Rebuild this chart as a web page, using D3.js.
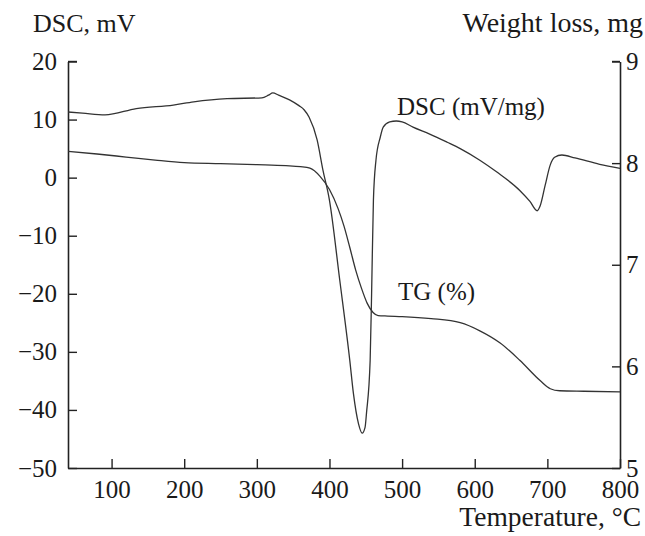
<!DOCTYPE html>
<html>
<head>
<meta charset="utf-8">
<script src="https://cdn.jsdelivr.net/npm/d3@7"></script>
<style>
html,body{margin:0;padding:0;background:#fff;}
svg text{font-family:"Liberation Serif","Times New Roman",serif;fill:#1a1a1a;}
</style>
</head>
<body>
<svg id="chart" width="645" height="536"></svg>
<script>
// ---- data ----
const dscTemp = [40, 60, 91, 134, 185, 213, 259, 307, 316, 322, 330, 345, 358, 365, 372, 383, 391, 400, 414, 428, 433, 440, 445, 449, 451, 456, 458, 460.5, 464, 470, 474, 483, 492, 500, 515, 538, 562, 580, 607, 630, 662, 676, 686, 690, 697, 704, 710, 720, 738, 772, 800];
const dscValue = [11.3, 11.1, 10.8, 11.9, 12.5, 13.05, 13.6, 13.75, 14.2, 14.6, 14.2, 13.4, 12.4, 11.7, 10.4, 6.5, 1.3, -3.9, -17.5, -31.5, -37.2, -42.4, -44, -43, -40.5, -31.5, -20, -3.9, 3, 7.0, 8.7, 9.6, 9.75, 9.6, 8.7, 7.5, 6.1, 5.0, 3.0, 1.0, -2.2, -4.1, -5.7, -4.9, -1.3, 2.2, 3.5, 3.9, 3.4, 2.3, 1.6];

const tgTemp = [40, 80, 120, 160, 200, 250, 300, 340, 360, 373, 387, 400, 412, 420, 428, 436, 444, 452, 460, 467, 480, 500, 540, 580, 607, 635, 662, 690, 704, 717, 750, 800];
const tgValue = [8.115, 8.09, 8.06, 8.03, 8.005, 7.995, 7.985, 7.975, 7.965, 7.95, 7.87, 7.74, 7.55, 7.38, 7.17, 6.95, 6.77, 6.62, 6.53, 6.50, 6.495, 6.49, 6.47, 6.43, 6.35, 6.23, 6.06, 5.86, 5.78, 5.76, 5.755, 5.75];

const xTicks = [100, 200, 300, 400, 500, 600, 700, 800];
const yLeftTicks = [-50, -40, -30, -20, -10, 0, 10, 20];
const yRightTicks = [5, 6, 7, 8, 9];

const labels = {
  left: "DSC, mV",
  right: "Weight loss, mg",
  x: "Temperature, °C",
  dsc: "DSC (mV/mg)",
  tg: "TG (%)"
};

// ---- layout ----
const L = 68, R = 620, T = 61.5, B = 468;
const svg = d3.select("#chart");

const x = d3.scaleLinear().domain([40, 800]).range([L, R]);
const yL = d3.scaleLinear().domain([-50, 20]).range([B, T]);
const yR = d3.scaleLinear().domain([5, 9]).range([B, T]);

const axisColor = "#222";
const fs = 25;

function styleAxis(g) {
  g.selectAll("path.domain").attr("stroke", axisColor).attr("stroke-width", 1.6);
  g.selectAll(".tick line").attr("stroke", axisColor).attr("stroke-width", 1.4);
  g.selectAll(".tick text").attr("font-size", fs).attr("font-family", "Liberation Serif").attr("fill", "#1a1a1a");
}

const fmtMinus = d => d < 0 ? "\u2212" + Math.abs(d) : String(d);

svg.append("g").attr("transform", `translate(${L},0)`)
  .call(d3.axisLeft(yL).tickValues(yLeftTicks).tickSizeInner(-9).tickSizeOuter(0).tickPadding(11).tickFormat(fmtMinus))
  .call(styleAxis);

svg.append("g").attr("transform", `translate(${R},0)`)
  .call(d3.axisRight(yR).tickValues(yRightTicks).tickSizeInner(-8).tickSizeOuter(0).tickPadding(6).tickFormat(d3.format("d")))
  .call(styleAxis);

svg.append("g").attr("transform", `translate(0,${B})`)
  .call(d3.axisBottom(x).tickValues(xTicks).tickSizeInner(-9).tickSizeOuter(0).tickPadding(12).tickFormat(d3.format("d")))
  .call(styleAxis);

// top corner ticks
svg.append("line").attr("x1", L).attr("x2", L + 9).attr("y1", T).attr("y2", T).attr("stroke", axisColor).attr("stroke-width", 1.4);
svg.append("line").attr("x1", R - 8).attr("x2", R).attr("y1", T).attr("y2", T).attr("stroke", axisColor).attr("stroke-width", 1.4);

// ---- curves ----
const dscLine = d3.line().x(d => x(d[0])).y(d => yL(d[1])).curve(d3.curveMonotoneX);
const tgLine = d3.line().x(d => x(d[0])).y(d => yR(d[1])).curve(d3.curveMonotoneX);

svg.append("path").datum(d3.zip(dscTemp, dscValue))
  .attr("d", dscLine).attr("fill", "none").attr("stroke", "#333").attr("stroke-width", 1.3);
svg.append("path").datum(d3.zip(tgTemp, tgValue))
  .attr("d", tgLine).attr("fill", "none").attr("stroke", "#333").attr("stroke-width", 1.3);

// ---- texts ----
svg.append("text").attr("x", 33).attr("y", 32).attr("font-size", 26).text(labels.left);
svg.append("text").attr("x", 643).attr("y", 32).attr("font-size", 28).attr("text-anchor", "end").text(labels.right);
svg.append("text").attr("x", 641).attr("y", 526).attr("font-size", 27.5).attr("text-anchor", "end").text(labels.x);
svg.append("text").attr("x", 397).attr("y", 115).attr("font-size", fs).text(labels.dsc);
svg.append("text").attr("x", 398).attr("y", 300).attr("font-size", fs).text(labels.tg);
</script>
</body>
</html>
